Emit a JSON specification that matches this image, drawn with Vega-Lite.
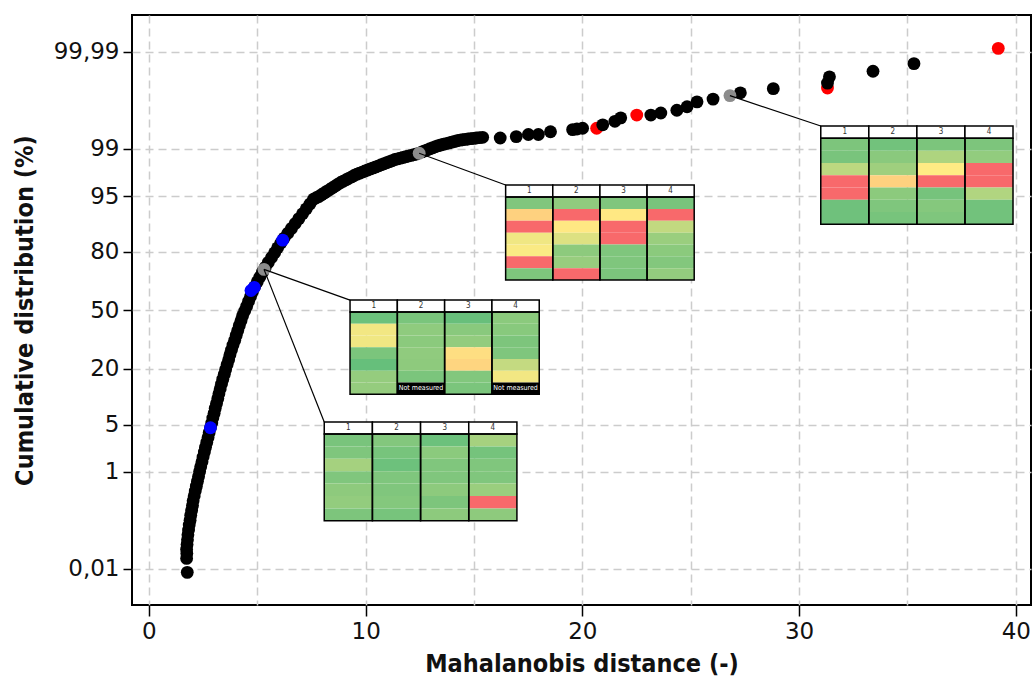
{
  "$schema": "https://vega.github.io/schema/vega-lite/v6.json",
  "width": 899,
  "height": 590,
  "autosize": "none",
  "padding": {"left": 132, "top": 15, "right": 2, "bottom": 74},
  "background": "white",
  "config": {
    "view": {"stroke": "#000000", "strokeWidth": 2},
    "axis": {
      "labelFont": "DejaVu Sans, sans-serif",
      "titleFont": "DejaVu Sans Condensed, DejaVu Sans, sans-serif",
      "labelFontSize": 23,
      "titleFontSize": 25,
      "labelColor": "#111111",
      "titleColor": "#111111",
      "titleFontWeight": "bold",
      "domain": false,
      "tickColor": "#000000",
      "tickWidth": 1.5,
      "gridColor": "#cccccc",
      "gridDash": [8, 5],
      "gridWidth": 1.5
    },
    "text": {"font": "DejaVu Sans Condensed, DejaVu Sans, sans-serif"}
  },
  "datasets": {
    "points": [
      {"distance": 1.77, "probit": -3.77, "type": "regular"},
      {"distance": 1.74, "probit": -3.57, "type": "regular"},
      {"distance": 1.75, "probit": -3.50, "type": "regular"},
      {"distance": 1.74, "probit": -3.44, "type": "regular"},
      {"distance": 1.76, "probit": -3.37, "type": "regular"},
      {"distance": 1.78, "probit": -3.30, "type": "regular"},
      {"distance": 1.80, "probit": -3.23, "type": "regular"},
      {"distance": 1.83, "probit": -3.16, "type": "regular"},
      {"distance": 1.86, "probit": -3.09, "type": "regular"},
      {"distance": 1.90, "probit": -3.02, "type": "regular"},
      {"distance": 1.93, "probit": -2.95, "type": "regular"},
      {"distance": 1.97, "probit": -2.88, "type": "regular"},
      {"distance": 2.01, "probit": -2.81, "type": "regular"},
      {"distance": 2.04, "probit": -2.74, "type": "regular"},
      {"distance": 2.09, "probit": -2.67, "type": "regular"},
      {"distance": 2.14, "probit": -2.60, "type": "regular"},
      {"distance": 2.19, "probit": -2.53, "type": "regular"},
      {"distance": 2.24, "probit": -2.46, "type": "regular"},
      {"distance": 2.29, "probit": -2.39, "type": "regular"},
      {"distance": 2.34, "probit": -2.32, "type": "regular"},
      {"distance": 2.39, "probit": -2.25, "type": "regular"},
      {"distance": 2.45, "probit": -2.18, "type": "regular"},
      {"distance": 2.50, "probit": -2.11, "type": "regular"},
      {"distance": 2.56, "probit": -2.04, "type": "regular"},
      {"distance": 2.61, "probit": -1.97, "type": "regular"},
      {"distance": 2.67, "probit": -1.90, "type": "regular"},
      {"distance": 2.73, "probit": -1.83, "type": "regular"},
      {"distance": 2.78, "probit": -1.76, "type": "regular"},
      {"distance": 2.84, "probit": -1.69, "type": "regular"},
      {"distance": 2.90, "probit": -1.62, "type": "regular"},
      {"distance": 2.95, "probit": -1.55, "type": "regular"},
      {"distance": 3.01, "probit": -1.48, "type": "regular"},
      {"distance": 3.06, "probit": -1.41, "type": "regular"},
      {"distance": 3.12, "probit": -1.34, "type": "regular"},
      {"distance": 3.18, "probit": -1.27, "type": "regular"},
      {"distance": 3.23, "probit": -1.20, "type": "regular"},
      {"distance": 3.29, "probit": -1.13, "type": "regular"},
      {"distance": 3.35, "probit": -1.06, "type": "regular"},
      {"distance": 3.41, "probit": -0.99, "type": "regular"},
      {"distance": 3.48, "probit": -0.92, "type": "regular"},
      {"distance": 3.54, "probit": -0.85, "type": "regular"},
      {"distance": 3.61, "probit": -0.78, "type": "regular"},
      {"distance": 3.68, "probit": -0.71, "type": "regular"},
      {"distance": 3.74, "probit": -0.64, "type": "regular"},
      {"distance": 3.81, "probit": -0.57, "type": "regular"},
      {"distance": 3.88, "probit": -0.50, "type": "regular"},
      {"distance": 3.96, "probit": -0.43, "type": "regular"},
      {"distance": 4.03, "probit": -0.36, "type": "regular"},
      {"distance": 4.10, "probit": -0.29, "type": "regular"},
      {"distance": 4.17, "probit": -0.22, "type": "regular"},
      {"distance": 4.25, "probit": -0.15, "type": "regular"},
      {"distance": 4.32, "probit": -0.08, "type": "regular"},
      {"distance": 4.42, "probit": -0.01, "type": "regular"},
      {"distance": 4.51, "probit": 0.06, "type": "regular"},
      {"distance": 4.60, "probit": 0.13, "type": "regular"},
      {"distance": 4.69, "probit": 0.20, "type": "regular"},
      {"distance": 4.78, "probit": 0.27, "type": "regular"},
      {"distance": 4.88, "probit": 0.34, "type": "regular"},
      {"distance": 5.00, "probit": 0.41, "type": "regular"},
      {"distance": 5.12, "probit": 0.48, "type": "regular"},
      {"distance": 5.24, "probit": 0.55, "type": "regular"},
      {"distance": 5.37, "probit": 0.62, "type": "regular"},
      {"distance": 5.51, "probit": 0.69, "type": "regular"},
      {"distance": 5.66, "probit": 0.76, "type": "regular"},
      {"distance": 5.80, "probit": 0.83, "type": "regular"},
      {"distance": 5.94, "probit": 0.90, "type": "regular"},
      {"distance": 6.09, "probit": 0.97, "type": "regular"},
      {"distance": 6.24, "probit": 1.04, "type": "regular"},
      {"distance": 6.41, "probit": 1.11, "type": "regular"},
      {"distance": 6.58, "probit": 1.18, "type": "regular"},
      {"distance": 6.75, "probit": 1.25, "type": "regular"},
      {"distance": 6.92, "probit": 1.32, "type": "regular"},
      {"distance": 7.09, "probit": 1.39, "type": "regular"},
      {"distance": 7.26, "probit": 1.46, "type": "regular"},
      {"distance": 7.43, "probit": 1.53, "type": "regular"},
      {"distance": 7.60, "probit": 1.60, "type": "regular"},
      {"distance": 7.72, "probit": 1.62, "type": "regular"},
      {"distance": 7.85, "probit": 1.64, "type": "regular"},
      {"distance": 7.97, "probit": 1.665, "type": "regular"},
      {"distance": 8.10, "probit": 1.69, "type": "regular"},
      {"distance": 8.22, "probit": 1.715, "type": "regular"},
      {"distance": 8.35, "probit": 1.74, "type": "regular"},
      {"distance": 8.47, "probit": 1.765, "type": "regular"},
      {"distance": 8.60, "probit": 1.79, "type": "regular"},
      {"distance": 8.72, "probit": 1.815, "type": "regular"},
      {"distance": 8.85, "probit": 1.84, "type": "regular"},
      {"distance": 8.97, "probit": 1.86, "type": "regular"},
      {"distance": 9.10, "probit": 1.88, "type": "regular"},
      {"distance": 9.22, "probit": 1.90, "type": "regular"},
      {"distance": 9.35, "probit": 1.92, "type": "regular"},
      {"distance": 9.47, "probit": 1.94, "type": "regular"},
      {"distance": 9.60, "probit": 1.96, "type": "regular"},
      {"distance": 9.72, "probit": 1.975, "type": "regular"},
      {"distance": 9.85, "probit": 1.99, "type": "regular"},
      {"distance": 9.97, "probit": 2.005, "type": "regular"},
      {"distance": 10.10, "probit": 2.02, "type": "regular"},
      {"distance": 10.22, "probit": 2.035, "type": "regular"},
      {"distance": 10.35, "probit": 2.05, "type": "regular"},
      {"distance": 10.47, "probit": 2.065, "type": "regular"},
      {"distance": 10.60, "probit": 2.08, "type": "regular"},
      {"distance": 10.72, "probit": 2.095, "type": "regular"},
      {"distance": 10.85, "probit": 2.11, "type": "regular"},
      {"distance": 10.97, "probit": 2.125, "type": "regular"},
      {"distance": 11.10, "probit": 2.14, "type": "regular"},
      {"distance": 11.22, "probit": 2.155, "type": "regular"},
      {"distance": 11.35, "probit": 2.17, "type": "regular"},
      {"distance": 11.47, "probit": 2.18, "type": "regular"},
      {"distance": 11.60, "probit": 2.19, "type": "regular"},
      {"distance": 11.72, "probit": 2.20, "type": "regular"},
      {"distance": 11.85, "probit": 2.21, "type": "regular"},
      {"distance": 11.97, "probit": 2.22, "type": "regular"},
      {"distance": 12.10, "probit": 2.23, "type": "regular"},
      {"distance": 12.22, "probit": 2.24, "type": "regular"},
      {"distance": 12.35, "probit": 2.25, "type": "regular"},
      {"distance": 12.60, "probit": 2.28, "type": "regular"},
      {"distance": 12.72, "probit": 2.295, "type": "regular"},
      {"distance": 12.85, "probit": 2.31, "type": "regular"},
      {"distance": 12.97, "probit": 2.325, "type": "regular"},
      {"distance": 13.10, "probit": 2.34, "type": "regular"},
      {"distance": 13.22, "probit": 2.355, "type": "regular"},
      {"distance": 13.35, "probit": 2.37, "type": "regular"},
      {"distance": 13.47, "probit": 2.38, "type": "regular"},
      {"distance": 13.60, "probit": 2.39, "type": "regular"},
      {"distance": 13.72, "probit": 2.40, "type": "regular"},
      {"distance": 13.85, "probit": 2.41, "type": "regular"},
      {"distance": 13.97, "probit": 2.42, "type": "regular"},
      {"distance": 14.10, "probit": 2.43, "type": "regular"},
      {"distance": 14.22, "probit": 2.44, "type": "regular"},
      {"distance": 14.35, "probit": 2.45, "type": "regular"},
      {"distance": 14.47, "probit": 2.455, "type": "regular"},
      {"distance": 14.60, "probit": 2.46, "type": "regular"},
      {"distance": 14.72, "probit": 2.465, "type": "regular"},
      {"distance": 14.85, "probit": 2.47, "type": "regular"},
      {"distance": 14.97, "probit": 2.475, "type": "regular"},
      {"distance": 15.10, "probit": 2.48, "type": "regular"},
      {"distance": 15.25, "probit": 2.485, "type": "regular"},
      {"distance": 15.40, "probit": 2.49, "type": "regular"},
      {"distance": 16.21, "probit": 2.48, "type": "regular"},
      {"distance": 16.95, "probit": 2.50, "type": "regular"},
      {"distance": 17.51, "probit": 2.53, "type": "regular"},
      {"distance": 17.97, "probit": 2.53, "type": "regular"},
      {"distance": 18.53, "probit": 2.57, "type": "regular"},
      {"distance": 19.55, "probit": 2.60, "type": "regular"},
      {"distance": 19.75, "probit": 2.61, "type": "regular"},
      {"distance": 20.01, "probit": 2.62, "type": "regular"},
      {"distance": 20.66, "probit": 2.62, "type": "flagged"},
      {"distance": 20.94, "probit": 2.67, "type": "regular"},
      {"distance": 21.50, "probit": 2.72, "type": "regular"},
      {"distance": 21.77, "probit": 2.77, "type": "regular"},
      {"distance": 23.16, "probit": 2.81, "type": "regular"},
      {"distance": 23.62, "probit": 2.84, "type": "regular"},
      {"distance": 24.36, "probit": 2.88, "type": "regular"},
      {"distance": 24.83, "probit": 2.93, "type": "regular"},
      {"distance": 25.29, "probit": 3.00, "type": "regular"},
      {"distance": 26.03, "probit": 3.04, "type": "regular"},
      {"distance": 27.29, "probit": 3.13, "type": "regular"},
      {"distance": 28.81, "probit": 3.19, "type": "regular"},
      {"distance": 31.31, "probit": 3.20, "type": "flagged"},
      {"distance": 31.31, "probit": 3.27, "type": "regular"},
      {"distance": 31.40, "probit": 3.36, "type": "regular"},
      {"distance": 33.41, "probit": 3.44, "type": "regular"},
      {"distance": 35.30, "probit": 3.55, "type": "regular"},
      {"distance": 2.84, "probit": -1.69, "type": "reference"},
      {"distance": 4.71, "probit": 0.285, "type": "reference"},
      {"distance": 4.86, "probit": 0.33, "type": "reference"},
      {"distance": 6.17, "probit": 1.01, "type": "reference"},
      {"distance": 22.51, "probit": 2.81, "type": "flagged"},
      {"distance": 39.19, "probit": 3.77, "type": "flagged"},
      {"distance": 5.31, "probit": 0.59, "type": "selected"},
      {"distance": 12.47, "probit": 2.26, "type": "selected"},
      {"distance": 26.81, "probit": 3.09, "type": "selected"}
    ],
    "insets": [
      {"inset": 1, "x0": 31.00, "x1": 39.87, "ztop": 2.652, "zhead": 2.475, "zbot": 1.238},
      {"inset": 2, "x0": 16.46, "x1": 25.16, "ztop": 1.803, "zhead": 1.630, "zbot": 0.436},
      {"inset": 3, "x0": 9.28, "x1": 18.01, "ztop": 0.148, "zhead": -0.024, "zbot": -1.209},
      {"inset": 4, "x0": 8.09, "x1": 16.98, "ztop": -1.607, "zhead": -1.780, "zbot": -3.028}
    ],
    "links": [
      {"inset": 1, "distance": 26.81, "probit": 3.09},
      {"inset": 2, "distance": 12.47, "probit": 2.26},
      {"inset": 3, "distance": 5.31, "probit": 0.59},
      {"inset": 4, "distance": 5.31, "probit": 0.59}
    ],
    "cells": [
      {"inset": 1, "col": 1, "row": 1, "value": 0.917},
      {"inset": 1, "col": 1, "row": 2, "value": 0.929},
      {"inset": 1, "col": 1, "row": 3, "value": 0.715},
      {"inset": 1, "col": 1, "row": 4, "value": 0},
      {"inset": 1, "col": 1, "row": 5, "value": 0},
      {"inset": 1, "col": 1, "row": 6, "value": 0.962},
      {"inset": 1, "col": 1, "row": 7, "value": 0.962},
      {"inset": 1, "col": 2, "row": 1, "value": 0.952},
      {"inset": 1, "col": 2, "row": 2, "value": 0.875},
      {"inset": 1, "col": 2, "row": 3, "value": 0.808},
      {"inset": 1, "col": 2, "row": 4, "value": 0.4},
      {"inset": 1, "col": 2, "row": 5, "value": 0.869},
      {"inset": 1, "col": 2, "row": 6, "value": 0.91},
      {"inset": 1, "col": 2, "row": 7, "value": 0.936},
      {"inset": 1, "col": 3, "row": 1, "value": 0.92},
      {"inset": 1, "col": 3, "row": 2, "value": 0.76},
      {"inset": 1, "col": 3, "row": 3, "value": 0.5},
      {"inset": 1, "col": 3, "row": 4, "value": 0},
      {"inset": 1, "col": 3, "row": 5, "value": 0.939},
      {"inset": 1, "col": 3, "row": 6, "value": 0.891},
      {"inset": 1, "col": 3, "row": 7, "value": 0.91},
      {"inset": 1, "col": 4, "row": 1, "value": 0.917},
      {"inset": 1, "col": 4, "row": 2, "value": 0.849},
      {"inset": 1, "col": 4, "row": 3, "value": 0},
      {"inset": 1, "col": 4, "row": 4, "value": 0},
      {"inset": 1, "col": 4, "row": 5, "value": 0.75},
      {"inset": 1, "col": 4, "row": 6, "value": 0.952},
      {"inset": 1, "col": 4, "row": 7, "value": 0.952},
      {"inset": 2, "col": 1, "row": 1, "value": 0.907},
      {"inset": 2, "col": 1, "row": 2, "value": 0.4},
      {"inset": 2, "col": 1, "row": 3, "value": 0},
      {"inset": 2, "col": 1, "row": 4, "value": 0.548},
      {"inset": 2, "col": 1, "row": 5, "value": 0.516},
      {"inset": 2, "col": 1, "row": 6, "value": 0},
      {"inset": 2, "col": 1, "row": 7, "value": 0.913},
      {"inset": 2, "col": 2, "row": 1, "value": 0.856},
      {"inset": 2, "col": 2, "row": 2, "value": 0},
      {"inset": 2, "col": 2, "row": 3, "value": 0.488},
      {"inset": 2, "col": 2, "row": 4, "value": 0.609},
      {"inset": 2, "col": 2, "row": 5, "value": 0.865},
      {"inset": 2, "col": 2, "row": 6, "value": 0.83},
      {"inset": 2, "col": 2, "row": 7, "value": 0},
      {"inset": 2, "col": 3, "row": 1, "value": 0.907},
      {"inset": 2, "col": 3, "row": 2, "value": 0.488},
      {"inset": 2, "col": 3, "row": 3, "value": 0},
      {"inset": 2, "col": 3, "row": 4, "value": 0},
      {"inset": 2, "col": 3, "row": 5, "value": 0.91},
      {"inset": 2, "col": 3, "row": 6, "value": 0.91},
      {"inset": 2, "col": 3, "row": 7, "value": 0.923},
      {"inset": 2, "col": 4, "row": 1, "value": 0.929},
      {"inset": 2, "col": 4, "row": 2, "value": 0},
      {"inset": 2, "col": 4, "row": 3, "value": 0.696},
      {"inset": 2, "col": 4, "row": 4, "value": 0.824},
      {"inset": 2, "col": 4, "row": 5, "value": 0.872},
      {"inset": 2, "col": 4, "row": 6, "value": 0.897},
      {"inset": 2, "col": 4, "row": 7, "value": 0.846},
      {"inset": 3, "col": 1, "row": 1, "value": 0.971},
      {"inset": 3, "col": 1, "row": 2, "value": 0.542},
      {"inset": 3, "col": 1, "row": 3, "value": 0.548},
      {"inset": 3, "col": 1, "row": 4, "value": 0.923},
      {"inset": 3, "col": 1, "row": 5, "value": 0.99},
      {"inset": 3, "col": 1, "row": 6, "value": 0.84},
      {"inset": 3, "col": 1, "row": 7, "value": 0.84},
      {"inset": 3, "col": 2, "row": 1, "value": 0.926},
      {"inset": 3, "col": 2, "row": 2, "value": 0.859},
      {"inset": 3, "col": 2, "row": 3, "value": 0.872},
      {"inset": 3, "col": 2, "row": 4, "value": 0.856},
      {"inset": 3, "col": 2, "row": 5, "value": 0.862},
      {"inset": 3, "col": 2, "row": 6, "value": 0.923},
      {"inset": 3, "col": 2, "row": 7, "note": "Not measured"},
      {"inset": 3, "col": 3, "row": 1, "value": 0.984},
      {"inset": 3, "col": 3, "row": 2, "value": 0.878},
      {"inset": 3, "col": 3, "row": 3, "value": 0.846},
      {"inset": 3, "col": 3, "row": 4, "value": 0.45},
      {"inset": 3, "col": 3, "row": 5, "value": 0.415},
      {"inset": 3, "col": 3, "row": 6, "value": 0.9},
      {"inset": 3, "col": 3, "row": 7, "value": 0.923},
      {"inset": 3, "col": 4, "row": 1, "value": 0.872},
      {"inset": 3, "col": 4, "row": 2, "value": 0.881},
      {"inset": 3, "col": 4, "row": 3, "value": 0.917},
      {"inset": 3, "col": 4, "row": 4, "value": 0.91},
      {"inset": 3, "col": 4, "row": 5, "value": 0.689},
      {"inset": 3, "col": 4, "row": 6, "value": 0.542},
      {"inset": 3, "col": 4, "row": 7, "note": "Not measured"},
      {"inset": 4, "col": 1, "row": 1, "value": 0.929},
      {"inset": 4, "col": 1, "row": 2, "value": 0.91},
      {"inset": 4, "col": 1, "row": 3, "value": 0.788},
      {"inset": 4, "col": 1, "row": 4, "value": 0.907},
      {"inset": 4, "col": 1, "row": 5, "value": 0.862},
      {"inset": 4, "col": 1, "row": 6, "value": 0.846},
      {"inset": 4, "col": 1, "row": 7, "value": 0.917},
      {"inset": 4, "col": 2, "row": 1, "value": 0.897},
      {"inset": 4, "col": 2, "row": 2, "value": 0.936},
      {"inset": 4, "col": 2, "row": 3, "value": 0.968},
      {"inset": 4, "col": 2, "row": 4, "value": 0.91},
      {"inset": 4, "col": 2, "row": 5, "value": 0.907},
      {"inset": 4, "col": 2, "row": 6, "value": 0.894},
      {"inset": 4, "col": 2, "row": 7, "value": 0.936},
      {"inset": 4, "col": 3, "row": 1, "value": 0.971},
      {"inset": 4, "col": 3, "row": 2, "value": 0.872},
      {"inset": 4, "col": 3, "row": 3, "value": 0.907},
      {"inset": 4, "col": 3, "row": 4, "value": 0.907},
      {"inset": 4, "col": 3, "row": 5, "value": 0.865},
      {"inset": 4, "col": 3, "row": 6, "value": 0.917},
      {"inset": 4, "col": 3, "row": 7, "value": 0.865},
      {"inset": 4, "col": 4, "row": 1, "value": 0.785},
      {"inset": 4, "col": 4, "row": 2, "value": 0.942},
      {"inset": 4, "col": 4, "row": 3, "value": 0.907},
      {"inset": 4, "col": 4, "row": 4, "value": 0.907},
      {"inset": 4, "col": 4, "row": 5, "value": 0.824},
      {"inset": 4, "col": 4, "row": 6, "value": 0},
      {"inset": 4, "col": 4, "row": 7, "value": 0.862}
    ]
  },
  "encoding": {
    "x": {
      "field": "distance",
      "type": "quantitative",
      "scale": {"domain": [-0.78, 40.7], "nice": false, "zero": false},
      "axis": {
        "title": "Mahalanobis distance (-)",
        "values": [0, 5, 10, 15, 20, 25, 30, 35, 40],
        "labelExpr": "datum.value % 10 === 0 ? datum.label : ''",
        "tickOpacity": {"condition": {"test": "datum.value % 10 === 0", "value": 1}, "value": 0},
        "tickSize": 11,
        "labelPadding": 4,
        "titlePadding": 8,
        "grid": true
      }
    },
    "y": {
      "field": "probit",
      "type": "quantitative",
      "scale": {"domain": [-4.24, 4.25], "nice": false, "zero": false},
      "axis": {
        "title": "Cumulative distribution (%)",
        "values": [-3.719, -2.326, -1.645, -0.8416, 0, 0.8416, 1.645, 2.326, 3.719],
        "labelExpr": "datum.value < -3 ? '0,01' : datum.value < -2 ? '1' : datum.value < -1.2 ? '5' : datum.value < -0.5 ? '20' : datum.value < 0.5 ? '50' : datum.value < 1.2 ? '80' : datum.value < 2 ? '95' : datum.value < 3 ? '99' : '99,99'",
        "tickSize": 9,
        "labelPadding": 4,
        "titlePadding": 16,
        "grid": true
      }
    }
  },
  "layer": [
    {
      "data": {"name": "points"},
      "mark": {"type": "circle", "size": 165, "opacity": 1},
      "encoding": {
        "color": {
          "field": "type",
          "type": "nominal",
          "scale": {"domain": ["regular", "reference", "flagged", "selected"], "range": ["#000000", "#0000ff", "#ff0000", "#8c8c8c"]},
          "legend": null
        }
      }
    },
    {
      "data": {"name": "links"},
      "transform": [
        {"lookup": "inset", "from": {"data": {"name": "insets"}, "key": "inset", "fields": ["x0", "ztop"]}},
        {"calculate": "datum.x0", "as": "distance2"},
        {"calculate": "datum.ztop", "as": "probit2"}
      ],
      "mark": {"type": "rule", "color": "#000000", "strokeWidth": 1.2},
      "encoding": {
        "x2": {"field": "distance2"},
        "y2": {"field": "probit2"}
      }
    },
    {
      "data": {"name": "cells"},
      "transform": [
        {"lookup": "inset", "from": {"data": {"name": "insets"}, "key": "inset", "fields": ["x0", "x1", "ztop", "zhead", "zbot"]}},
        {"calculate": "(datum.x1 - datum.x0) / 4", "as": "w"},
        {"calculate": "(datum.zhead - datum.zbot) / 7", "as": "h"},
        {"calculate": "datum.x0 + (datum.col - 1) * datum.w", "as": "distance"},
        {"calculate": "datum.x0 + datum.col * datum.w", "as": "distance2"},
        {"calculate": "datum.zhead - (datum.row - 1) * datum.h", "as": "probit"},
        {"calculate": "datum.zhead - datum.row * datum.h", "as": "probit2"}
      ],
      "layer": [
        {
          "transform": [{"filter": "isValid(datum.value)"}],
          "mark": {"type": "rect", "strokeWidth": 0},
          "encoding": {
            "x2": {"field": "distance2"},
            "y2": {"field": "probit2"},
            "fill": {
              "field": "value",
              "type": "quantitative",
              "scale": {"domain": [0, 0.5, 1], "range": ["#f8696b", "#ffeb84", "#63be7b"], "interpolate": "rgb"},
              "legend": null
            }
          }
        },
        {
          "transform": [{"filter": "isValid(datum.note)"}],
          "mark": {"type": "rect", "fill": "#000000", "strokeWidth": 0},
          "encoding": {
            "x2": {"field": "distance2"},
            "y2": {"field": "probit2"}
          }
        },
        {
          "transform": [
            {"filter": "isValid(datum.note)"},
            {"calculate": "datum.x0 + (datum.col - 0.5) * datum.w", "as": "distance"},
            {"calculate": "datum.zhead - (datum.row - 0.5) * datum.h", "as": "probit"}
          ],
          "mark": {"type": "text", "color": "#ffffff", "fontSize": 7, "align": "center", "baseline": "middle"},
          "encoding": {"text": {"field": "note"}}
        },
        {
          "transform": [
            {"filter": "datum.row === 1"},
            {"calculate": "datum.ztop", "as": "probit"},
            {"calculate": "datum.zhead", "as": "probit2"}
          ],
          "mark": {"type": "rect", "fill": "#ffffff", "stroke": "#000000", "strokeWidth": 1.5},
          "encoding": {
            "x2": {"field": "distance2"},
            "y2": {"field": "probit2"}
          }
        },
        {
          "transform": [
            {"filter": "datum.row === 1"},
            {"calculate": "datum.x0 + (datum.col - 0.5) * datum.w", "as": "distance"},
            {"calculate": "(datum.ztop + datum.zhead) / 2", "as": "probit"},
            {"calculate": "toString(datum.col)", "as": "header"}
          ],
          "mark": {"type": "text", "color": "#333333", "fontSize": 8, "align": "center", "baseline": "middle"},
          "encoding": {"text": {"field": "header"}}
        },
        {
          "transform": [
            {"filter": "datum.row === 1"},
            {"calculate": "datum.zhead", "as": "probit"},
            {"calculate": "datum.zbot", "as": "probit2"}
          ],
          "mark": {"type": "rect", "fillOpacity": 0, "stroke": "#000000", "strokeWidth": 1.5},
          "encoding": {
            "x2": {"field": "distance2"},
            "y2": {"field": "probit2"}
          }
        }
      ]
    }
  ]
}
